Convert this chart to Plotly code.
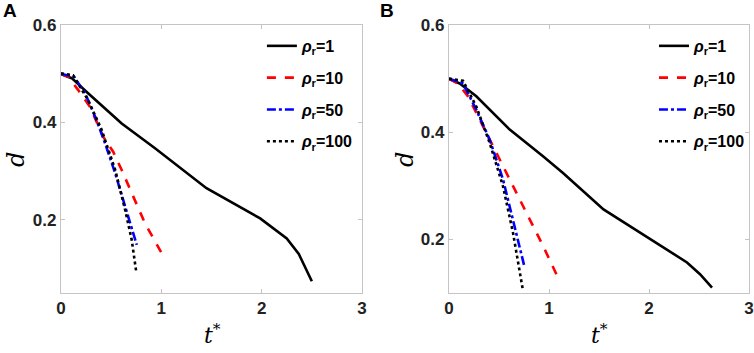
import plotly.graph_objects as go

# Panel A data
tA_1 = [0, 0.107, 0.27, 0.605, 0.937, 1.45, 1.985, 2.25, 2.37, 2.5]
dA_1 = [0.4995, 0.491, 0.46, 0.398, 0.347, 0.265, 0.203, 0.162, 0.13, 0.074]
tA_10 = [0, 0.073, 0.17, 0.29, 0.42, 0.52, 0.605, 0.738, 0.837, 1.0]
dA_10 = [0.4995, 0.494, 0.467, 0.432, 0.371, 0.34, 0.3025, 0.241, 0.193, 0.133]
tA_50 = [0, 0.13, 0.24, 0.34, 0.44, 0.54, 0.64, 0.755]
dA_50 = [0.4995, 0.494, 0.46, 0.412, 0.357, 0.296, 0.227, 0.149]
tA_100 = [0, 0.12, 0.27, 0.405, 0.54, 0.64, 0.705, 0.748]
dA_100 = [0.501, 0.497, 0.446, 0.385, 0.303, 0.22, 0.159, 0.096]

# Panel B data
tB_1 = [0, 0.107, 0.273, 0.607, 0.94, 1.14, 1.545, 2.01, 2.38, 2.51, 2.63]
dB_1 = [0.4995, 0.491, 0.467, 0.405, 0.355, 0.324, 0.256, 0.2, 0.157, 0.135, 0.110]
tB_10 = [0, 0.09, 0.19, 0.307, 0.44, 0.607, 0.773, 0.94, 1.107]
dB_10 = [0.4995, 0.491, 0.467, 0.423, 0.374, 0.312, 0.25, 0.188, 0.122]
tB_50 = [0, 0.14, 0.273, 0.407, 0.54, 0.64, 0.757]
dB_50 = [0.5, 0.491, 0.442, 0.386, 0.312, 0.237, 0.147]
tB_100 = [0, 0.14, 0.273, 0.407, 0.54, 0.64, 0.74]
dB_100 = [0.5, 0.496, 0.448, 0.38, 0.299, 0.2125, 0.104]

names = ["<i>ρ</i><sub>r</sub>=1", "<i>ρ</i><sub>r</sub>=10",
         "<i>ρ</i><sub>r</sub>=50", "<i>ρ</i><sub>r</sub>=100"]
colors = ["black", "red", "blue", "black"]
dashes = ["solid", "dash", "dashdot", "dot"]

x_ticks = [0, 1, 2, 3]
y_ticks = [0.2, 0.4, 0.6]

panels = [
    ([tA_1, tA_10, tA_50, tA_100], [dA_1, dA_10, dA_50, dA_100], "x", "y", "legend", "a"),
    ([tB_1, tB_10, tB_50, tB_100], [dB_1, dB_10, dB_50, dB_100], "x2", "y2", "legend2", "b"),
]

fig = go.Figure()
for ts, ds, xa, ya, lg, p in panels:
    for i in range(4):
        fig.add_trace(go.Scatter(
            x=ts[i], y=ds[i], mode="lines", name=names[i],
            line=dict(color=colors[i], width=2.6, dash=dashes[i]),
            xaxis=xa, yaxis=ya, legend=lg, legendgroup=p + str(i)))

axis_common = dict(
    showgrid=False, zeroline=False, showline=True, linecolor="#c4c4c4", linewidth=1.2,
    mirror="ticks", ticks="inside", ticklen=4, tickcolor="#c4c4c4", automargin=False,
    tickfont=dict(family="Liberation Sans, Arial", size=17, color="#222222", weight="bold"),
)

legend_common = dict(
    bgcolor="rgba(0,0,0,0)", borderwidth=0,
    font=dict(family="Liberation Sans, Arial", size=16, color="black", weight="bold"),
    itemwidth=30, tracegroupgap=8, yanchor="top", xanchor="right",
)

fig.update_layout(
    width=754, height=353, margin=dict(l=0, r=0, t=0, b=0, autoexpand=False),
    plot_bgcolor="white", paper_bgcolor="white", showlegend=True,
    xaxis=dict(domain=[0.0809, 0.4801], range=[0, 3], tickvals=x_ticks, anchor="y", **axis_common),
    yaxis=dict(domain=[0.170, 0.929], range=[0.05, 0.6], tickvals=y_ticks,
               tickformat=".1f", anchor="x", **axis_common),
    xaxis2=dict(domain=[0.5955, 0.9934], range=[0, 3], tickvals=x_ticks, anchor="y2", **axis_common),
    yaxis2=dict(domain=[0.170, 0.929], range=[0.1, 0.6], tickvals=y_ticks,
                tickformat=".1f", anchor="x2", **axis_common),
    legend=dict(x=0.476, y=0.918, **legend_common),
    legend2=dict(x=0.996, y=0.918, **legend_common),
)

annots = [
    dict(text="<b>A</b>", x=1 / 754, y=1 - 11 / 353, xanchor="left", yanchor="middle",
         font=dict(family="Liberation Sans, Arial", size=19, color="black")),
    dict(text="<b>B</b>", x=378 / 754, y=1 - 11 / 353, xanchor="left", yanchor="middle",
         font=dict(family="Liberation Sans, Arial", size=19, color="black")),
    dict(text="<i>d</i>", x=16 / 754, y=1 - 160 / 353, xanchor="center", yanchor="middle",
         textangle=-90, font=dict(family="DejaVu Serif, serif", size=24, color="black")),
    dict(text="<i>d</i>", x=405 / 754, y=1 - 160 / 353, xanchor="center", yanchor="middle",
         textangle=-90, font=dict(family="DejaVu Serif, serif", size=24, color="black")),
    dict(text="<i>t</i><sup>*</sup>", x=212 / 754, y=1 - 334 / 353, xanchor="center", yanchor="middle",
         font=dict(family="DejaVu Serif, serif", size=22, color="black")),
    dict(text="<i>t</i><sup>*</sup>", x=599 / 754, y=1 - 334 / 353, xanchor="center", yanchor="middle",
         font=dict(family="DejaVu Serif, serif", size=22, color="black")),
]
for a in annots:
    fig.add_annotation(xref="paper", yref="paper", showarrow=False, **a)

fig.write_html("out.html", config={"displayModeBar": False},
               post_script="document.body.style.margin='0';document.body.style.padding='0';")
